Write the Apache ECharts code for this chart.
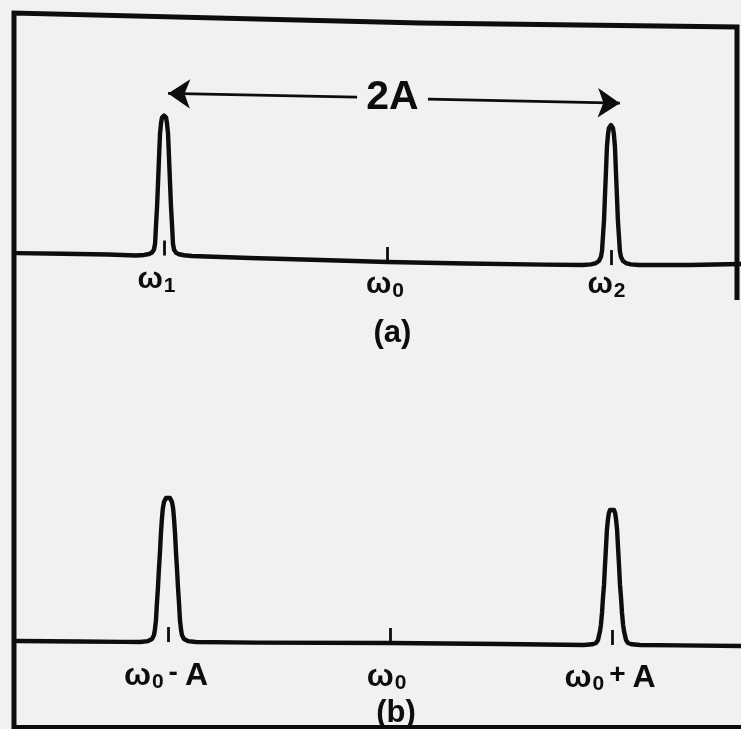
<!DOCTYPE html>
<html>
<head>
<meta charset="utf-8">
<script src="https://cdn.jsdelivr.net/npm/echarts@6/dist/echarts.min.js"></script>
<style>
  html, body { margin: 0; padding: 0; background: #f1f1f0; }
  #chart { width: 741px; height: 729px; }
</style>
</head>
<body>
<div id="chart"></div>
<script>
// Frequency in units of A, measured from the carrier ω0; intensity normalised to the peak.

// (a) two lines at ω1 and ω2
const traceA = [
  [-1.658, 0.049], [-1.45, 0.045], [-1.25, 0.039],
  [-1.125, 0.032], [-1.089, 0.036], [-1.067, 0.043], [-1.054, 0.053], [-1.045, 0.075],
  [-1.040, 0.118], [-1.036, 0.246], [-1.031, 0.389], [-1.027, 0.546], [-1.022, 0.746],
  [-1.018, 0.903], [-1.013, 0.982], [-1.009, 1.018], [-1.000, 1.032], [-0.991, 1.017],
  [-0.987, 0.980], [-0.982, 0.901], [-0.978, 0.744], [-0.973, 0.544], [-0.969, 0.387],
  [-0.964, 0.244], [-0.960, 0.116], [-0.955, 0.073], [-0.946, 0.051], [-0.933, 0.041],
  [-0.911, 0.034], [-0.875, 0.029],
  [-0.616, 0.014], [-0.30, 0.000], [0.000, -0.014], [0.35, -0.025], [0.70, -0.033],
  [0.875, -0.036], [0.911, -0.031], [0.933, -0.022], [0.946, -0.007], [0.955, 0.021],
  [0.960, 0.064], [0.964, 0.164], [0.969, 0.285], [0.973, 0.450], [0.978, 0.643],
  [0.982, 0.807], [0.987, 0.900], [0.991, 0.943], [1.000, 0.964], [1.009, 0.943],
  [1.013, 0.900], [1.018, 0.807], [1.022, 0.643], [1.027, 0.450], [1.031, 0.285],
  [1.036, 0.164], [1.040, 0.064], [1.045, 0.021], [1.054, -0.007], [1.067, -0.022],
  [1.089, -0.031], [1.125, -0.036],
  [1.35, -0.036], [1.582, -0.029]
];

// (b) two lines at ω0 - A and ω0 + A
const traceB = [
  [-1.680, 0.021], [-1.40, 0.018], [-1.20, 0.015],
  [-1.126, 0.014], [-1.090, 0.021], [-1.072, 0.035], [-1.063, 0.064], [-1.059, 0.100],
  [-1.054, 0.171], [-1.050, 0.285], [-1.045, 0.407], [-1.041, 0.528], [-1.036, 0.657],
  [-1.032, 0.785], [-1.027, 0.900], [-1.023, 0.971], [-1.018, 1.014], [-1.009, 1.043],
  [-1.000, 1.050], [-0.991, 1.043], [-0.982, 1.014], [-0.977, 0.971], [-0.973, 0.900],
  [-0.968, 0.785], [-0.964, 0.657], [-0.959, 0.528], [-0.955, 0.407], [-0.950, 0.285],
  [-0.946, 0.171], [-0.941, 0.100], [-0.937, 0.064], [-0.928, 0.035], [-0.910, 0.021],
  [-0.874, 0.014],
  [-0.60, 0.010], [0.000, 0.007], [0.50, 0.000],
  [0.874, -0.007], [0.910, -0.002], [0.928, 0.007], [0.937, 0.029], [0.941, 0.057],
  [0.946, 0.093], [0.950, 0.136], [0.955, 0.222], [0.959, 0.322], [0.964, 0.422],
  [0.968, 0.550], [0.973, 0.693], [0.977, 0.814], [0.982, 0.893], [0.986, 0.936],
  [0.991, 0.957], [1.000, 0.964], [1.009, 0.957], [1.014, 0.936], [1.018, 0.893],
  [1.023, 0.814], [1.027, 0.693], [1.032, 0.550], [1.036, 0.422], [1.041, 0.322],
  [1.045, 0.222], [1.050, 0.136], [1.054, 0.093], [1.059, 0.057], [1.063, 0.029],
  [1.072, 0.007], [1.090, -0.002], [1.126, -0.007],
  [1.30, -0.010], [1.581, -0.014]
];

// frequency markers: position and the trace level under each one
const tickXA = [-1, 0, 1];
const tickBaseA = [0.032, -0.014, -0.036];
const tickXB = [-1, 0, 1];
const tickBaseB = [0.014, 0.007, -0.007];
const tickLength = 0.107;

const labelsA = ['{w|ω}{s|1}', '{w|ω}{s|0}', '{w|ω}{s|2}'];
const labelsB = ['{w|ω}{s|0}{m|-}{w|A}', '{w|ω}{s|0}', '{w|ω}{s|0}{m|+}{w|A}'];
const panelNames = ['(a)', '(b)'];

// separation arrow across panel (a): tips, inner ends of the two shafts, label anchor
const arrowTips = [[-0.982, 1.19], [1.040, 1.12]];
const arrowInner = [[-0.136, 1.164], [0.181, 1.149]];
const arrowLabelAt = [0.022, 1.157];
const arrowText = '2A';

// ---- styling ----
const INK = '#0d0d0d';
const PAPER = '#f1f1f0';
const FONT = '"Liberation Sans", Arial, sans-serif';
const labelOffsetsA = [[-7, 24], [-2, 23], [-4, 20]];
const labelOffsetsB = [[-2, 34], [-3, 34], [-2, 33]];
const panelOffsets = [[5, 71], [6, 70]];

function richSet(main, sub, op) {
  return {
    w: { fontSize: main, fontWeight: 'bold', fontFamily: FONT, color: INK, lineHeight: 34, verticalAlign: 'middle' },
    s: { fontSize: sub, fontWeight: 'bold', fontFamily: FONT, color: INK, lineHeight: 18, verticalAlign: 'bottom', padding: [0, 1, 0, 1] },
    m: { fontSize: op, fontWeight: 'bold', fontFamily: FONT, color: INK, lineHeight: 34, verticalAlign: 'top', padding: [0, 7, 0, 4] }
  };
}
const richA = richSet(30, 21, 26);
const richB = richSet(32, 21, 28);

const chart = echarts.init(document.getElementById('chart'), null, { renderer: 'canvas' });

function panelSeries(idx, trace, tickX, tickBase, labels, offsets, rich) {
  const out = [];
  out.push({
    type: 'line', xAxisIndex: idx, yAxisIndex: idx, data: trace,
    showSymbol: false, symbol: 'none', smooth: false, animation: false, silent: true,
    lineStyle: { color: INK, width: 4.4, cap: 'round', join: 'round' },
    markLine: {
      silent: true, animation: false, symbol: ['none', 'none'],
      label: { show: false },
      lineStyle: { color: INK, width: 2.8, type: 'solid' },
      data: tickX.map((x, k) => [{ coord: [x, tickBase[k]] }, { coord: [x, tickBase[k] + tickLength] }])
    }
  });
  out.push({
    type: 'scatter', xAxisIndex: idx, yAxisIndex: idx, symbolSize: 0, silent: true, animation: false,
    itemStyle: { opacity: 1 },
    data: tickX.map((x, k) => ({
      value: [x, tickBase[k]],
      label: { offset: offsets[k], formatter: labels[k] }
    })),
    label: { show: true, position: 'inside', opacity: 1, rich: rich }
  });
  out.push({
    type: 'scatter', xAxisIndex: idx, yAxisIndex: idx, symbolSize: 0, silent: true, animation: false,
    itemStyle: { opacity: 1 },
    data: [{ value: [tickX[1], tickBase[1]] }],
    label: {
      show: true, position: 'inside', opacity: 1, offset: panelOffsets[idx], formatter: panelNames[idx],
      fontSize: 31, fontWeight: 'bold', fontFamily: FONT, color: INK
    }
  });
  return out;
}

const series = [
  ...panelSeries(0, traceA, tickXA, tickBaseA, labelsA, labelOffsetsA, richA),
  ...panelSeries(1, traceB, tickXB, tickBaseB, labelsB, labelOffsetsB, richB)
];

// arrow spanning ω1 .. ω2, shaft broken by its label
series.push({
  type: 'scatter', xAxisIndex: 0, yAxisIndex: 0, symbolSize: 0, silent: true, animation: false,
  itemStyle: { opacity: 1 },
  data: [{ value: arrowLabelAt }],
  label: {
    show: true, position: 'inside', opacity: 1, formatter: arrowText,
    fontSize: 41, fontFamily: FONT, color: INK, fontWeight: 'bold'
  },
  markLine: {
    silent: true, animation: false,
    symbolSize: 22,
    lineStyle: { color: INK, width: 2.8, type: 'solid' },
    label: { show: false },
    data: [
      [{ coord: arrowTips[0], symbol: 'arrow' }, { coord: arrowInner[0], symbol: 'none' }],
      [{ coord: arrowInner[1], symbol: 'none' }, { coord: arrowTips[1], symbol: 'arrow' }]
    ]
  }
});

chart.setOption({
  backgroundColor: PAPER,
  animation: false,
  grid: [
    { left: 17, right: 0, top: 78, height: 224 },
    { left: 17, right: 0, top: 462, height: 224 }
  ],
  xAxis: [
    { type: 'value', gridIndex: 0, min: -1.658, max: 1.582, show: false },
    { type: 'value', gridIndex: 1, min: -1.680, max: 1.581, show: false }
  ],
  yAxis: [
    { type: 'value', gridIndex: 0, min: -0.3, max: 1.3, show: false },
    { type: 'value', gridIndex: 1, min: -0.3, max: 1.3, show: false }
  ],
  graphic: [
    { type: 'polyline', silent: true, z: 100,
      shape: { points: [[14, 729], [14, 13], [420, 23], [737, 27], [737, 300]] },
      style: { stroke: INK, lineWidth: 5, fill: null, lineJoin: 'miter' } },
    { type: 'line', silent: true, z: 100,
      shape: { x1: 14, y1: 727, x2: 741, y2: 727 },
      style: { stroke: INK, lineWidth: 4 } }
  ],
  series: series
});
</script>
</body>
</html>
